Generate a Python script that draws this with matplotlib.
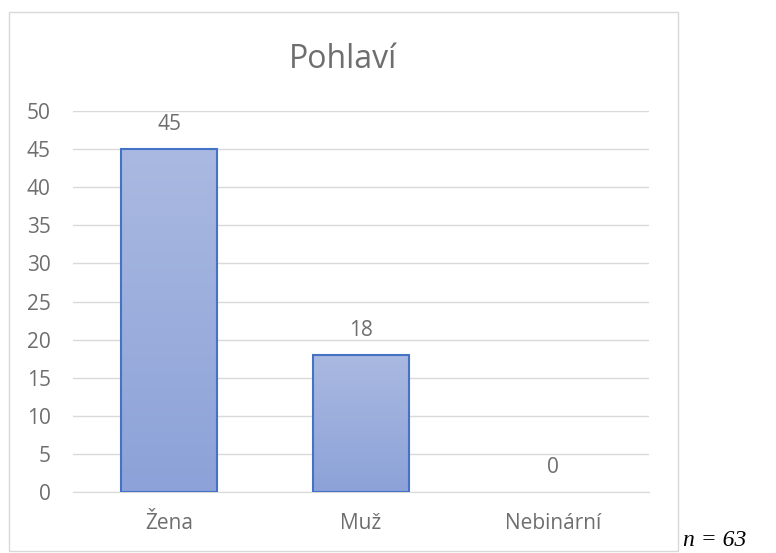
import numpy as np
import matplotlib
matplotlib.use('agg')
from matplotlib import pyplot as plt
from matplotlib.patches import Rectangle

categories = ['Žena', 'Muž', 'Nebinární']
counts = [45, 18, 0]
y_ticks = [0, 5, 10, 15, 20, 25, 30, 35, 40, 45, 50]

grey = '#6E6E6E'
plt.rcParams['font.family'] = ['Open Sans', 'DejaVu Sans']

fig = plt.figure(figsize=(7.76, 5.53), dpi=100)

# outer chart frame
fig.patches.append(Rectangle((9 / 776, 2 / 553), 669 / 776, 539 / 553,
                             transform=fig.transFigure, fill=False,
                             edgecolor='#D9D9D9', linewidth=1))

ax = fig.add_axes([73 / 776, 1 - 492 / 553, 576 / 776, 381 / 553])
x = np.arange(len(categories))
bars = ax.bar(x, counts, width=0.505, color='none', edgecolor='#4472C4',
              linewidth=1.5, zorder=3)

# vertical gradient fill clipped to each bar
grad = np.linspace(0, 1, 256).reshape(-1, 1)
cmap = matplotlib.colors.LinearSegmentedColormap.from_list(
    'g', ['#8CA2D8', '#AAB9E1'])
for b in bars:
    if b.get_height() <= 0:
        b.set_linewidth(0)
        continue
    im = ax.imshow(grad, cmap=cmap, aspect='auto', origin='lower',
                   extent=[b.get_x(), b.get_x() + b.get_width(), 0, b.get_height()],
                   zorder=2)
    im.set_clip_path(b)

for xi, v in zip(x, counts):
    ax.annotate(str(v), (xi, v), xytext=(0, 10), textcoords='offset points',
                ha='center', va='bottom', color=grey, fontsize=15)

ax.set_xlim(-0.5, 2.5)
ax.set_ylim(0, 50)
ax.set_yticks(y_ticks)
ax.set_xticks(x)
ax.set_xticklabels(categories)
ax.tick_params(axis='both', length=0, colors=grey, labelsize=15)
ax.tick_params(axis='y', pad=16)
ax.tick_params(axis='x', pad=15)
ax.yaxis.grid(True, color='#D9D9D9', linewidth=1)
ax.set_axisbelow(True)
for s in ['top', 'right', 'left']:
    ax.spines[s].set_visible(False)
ax.spines['bottom'].set_color('#D9D9D9')

fig.text(343 / 776, 1 - 68 / 553, 'Pohlaví', ha='center', va='baseline',
         color=grey, fontsize=23)
fig.text(683 / 776, 7 / 553, 'n = 63', ha='left', va='baseline',
         fontsize=17, family='Liberation Serif', style='italic')

fig.savefig('out.png', dpi=100)
